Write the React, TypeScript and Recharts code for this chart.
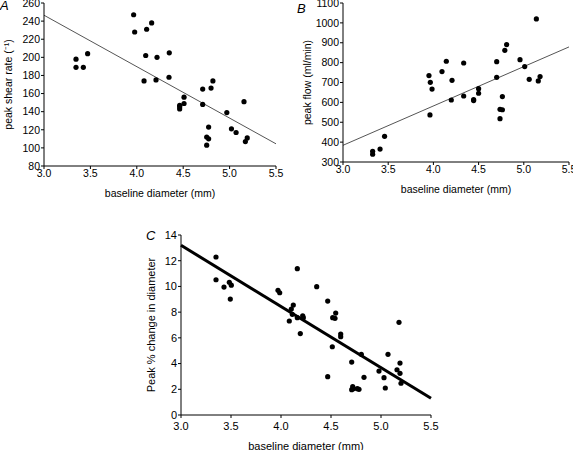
import { ScatterChart, Scatter, XAxis, YAxis, ReferenceLine } from "recharts"

// panel A: baseline diameter vs peak shear rate
const diameterA = [3.345, 3.345, 3.424, 3.47, 3.966, 3.977, 4.106, 4.16, 4.096, 4.218, 4.078, 4.207, 4.35, 4.347, 4.462, 4.462, 4.462, 4.509, 4.509, 4.71, 4.71, 4.8, 4.82, 4.753, 4.774, 4.774, 4.753, 4.97, 5.02, 5.07, 5.155, 5.17, 5.19]
const shearA = [198, 189, 189, 204, 247, 228, 231, 238, 202, 200, 174, 175, 205, 178, 147, 145.5, 143, 156, 149, 165, 148, 166, 174, 112, 110, 123, 103, 139, 121, 117, 151, 107, 111]
const trendA = [{ x: 3.0, y: 246.5 }, { x: 5.5, y: 104.5 }]

// panel B: baseline diameter vs peak flow
const diameterB = [3.328, 3.328, 3.41, 3.46, 3.951, 3.966, 3.962, 3.985, 4.095, 4.143, 4.206, 4.198, 4.335, 4.335, 4.445, 4.445, 4.5, 4.5, 4.7, 4.7, 4.79, 4.81, 4.737, 4.737, 4.763, 4.763, 4.958, 5.01, 5.06, 5.139, 5.16, 5.18]
const flowB = [354, 339, 365, 429, 735, 701, 537, 667, 755, 807, 711, 612, 798, 632, 614, 609, 669, 646, 805, 726, 862, 891, 518, 565, 563, 629, 815, 780, 716, 1020, 708, 730]
const trendB = [{ x: 3.0, y: 384 }, { x: 5.5, y: 879 }]

// panel C: baseline diameter vs peak % change in diameter
const diameterC = [3.35, 3.35, 3.43, 3.483, 3.503, 3.493, 3.97, 3.987, 4.083, 4.103, 4.123, 4.113, 4.163, 4.163, 4.193, 4.217, 4.223, 4.357, 4.467, 4.467, 4.513, 4.517, 4.54, 4.547, 4.597, 4.597, 4.707, 4.707, 4.717, 4.723, 4.763, 4.78, 4.803, 4.83, 4.98, 5.03, 5.043, 5.07, 5.16, 5.18, 5.19, 5.19, 5.2]
const changeC = [12.29, 10.52, 9.95, 10.32, 10.1, 9.02, 9.7, 9.51, 7.31, 8.24, 8.55, 7.83, 11.38, 7.57, 6.33, 7.72, 7.57, 9.98, 8.86, 2.98, 5.31, 7.57, 7.52, 7.93, 6.3, 6.09, 4.12, 1.97, 2.2, 2.05, 2.05, 2.0, 4.72, 2.93, 3.42, 2.9, 2.1, 4.72, 3.52, 7.21, 4.04, 3.24, 2.47]
const trendC = [{ x: 3.0, y: 13.2 }, { x: 5.5, y: 1.3 }]

const xTicks = [3.0, 3.5, 4.0, 4.5, 5.0, 5.5]
const yTicksA = [80, 100, 120, 140, 160, 180, 200, 220, 240, 260]
const yTicksB = [300, 400, 500, 600, 700, 800, 900, 1000, 1100]
const yTicksC = [0, 2, 4, 6, 8, 10, 12, 14]

const font = "'Liberation Sans', Arial, sans-serif"

const zip = (xs: number[], ys: number[]) => xs.map((x, i) => ({ x, y: ys[i] }))

const Dot = (p: any) => <circle cx={p.cx} cy={p.cy} r={2.6} fill="#000" />

type PanelProps = {
  width: number
  height: number
  margin: { top: number; right: number; bottom: number; left: number }
  yWidth: number
  xHeight: number
  xTickMargin: number
  fontSize: number
  yDomain: [number, number]
  yTicks: number[]
  yLabel: string
  yLabelOffset: number
  points: { x: number; y: number }[]
  trend: { x: number; y: number }[]
  trendColor: string
  trendWidth: number
}

const Panel = (p: PanelProps) => {
  const tickStyle = { fill: "#000", fontSize: p.fontSize, fontFamily: font }
  const labelStyle = { fill: "#000", fontSize: p.fontSize, fontFamily: font, textAnchor: "middle" as const }
  return (
    <ScatterChart width={p.width} height={p.height} margin={p.margin}>
      <XAxis
        type="number"
        dataKey="x"
        domain={[3, 5.5]}
        ticks={xTicks}
        interval={0}
        tickFormatter={(v: number) => v.toFixed(1)}
        height={p.xHeight}
        tick={tickStyle}
        tickSize={3}
        tickMargin={p.xTickMargin}
        stroke="#000"
        allowDataOverflow
        label={{ value: "baseline diameter (mm)", position: "insideBottom", offset: 0, style: labelStyle }}
      />
      <YAxis
        type="number"
        dataKey="y"
        domain={p.yDomain}
        ticks={p.yTicks}
        interval={0}
        width={p.yWidth}
        tick={tickStyle}
        tickSize={3}
        tickMargin={1}
        stroke="#000"
        allowDataOverflow
        label={{ value: p.yLabel, angle: -90, position: "insideLeft", offset: p.yLabelOffset, style: labelStyle }}
      />
      <ReferenceLine segment={p.trend} stroke={p.trendColor} strokeWidth={p.trendWidth} />
      <Scatter data={p.points} shape={Dot} isAnimationActive={false} />
    </ScatterChart>
  )
}

const letter = (text: string, left: number, top: number) => (
  <div style={{ position: "absolute", left, top, fontFamily: font, fontStyle: "italic", fontSize: 13, lineHeight: "13px" }}>{text}</div>
)

export default function App() {
  return (
    <div style={{ position: "absolute", left: 0, top: 0, width: 573, height: 450, background: "#fff", overflow: "hidden" }}>
      <div style={{ position: "absolute", left: 0, top: 0 }}>
        <Panel
          width={290}
          height={200}
          margin={{ top: 3, right: 14, bottom: 3, left: 0 }}
          yWidth={44}
          xHeight={31}
          xTickMargin={1}
          fontSize={10.5}
          yDomain={[80, 260]}
          yTicks={yTicksA}
          yLabel="peak shear rate (⁻¹)"
          yLabelOffset={8}
          points={zip(diameterA, shearA)}
          trend={trendA}
          trendColor="#555"
          trendWidth={1}
        />
      </div>
      <div style={{ position: "absolute", left: 290, top: 0 }}>
        <Panel
          width={283}
          height={200}
          margin={{ top: 3, right: 4, bottom: 7, left: 0 }}
          yWidth={53}
          xHeight={31}
          xTickMargin={1}
          fontSize={10.5}
          yDomain={[300, 1100]}
          yTicks={yTicksB}
          yLabel="peak flow (ml/min)"
          yLabelOffset={17}
          points={zip(diameterB, flowB)}
          trend={trendB}
          trendColor="#555"
          trendWidth={1}
        />
      </div>
      <div style={{ position: "absolute", left: 120, top: 225 }}>
        <Panel
          width={320}
          height={225}
          margin={{ top: 10, right: 9, bottom: 0, left: 0 }}
          yWidth={61}
          xHeight={35}
          xTickMargin={4}
          fontSize={11}
          yDomain={[0, 14]}
          yTicks={yTicksC}
          yLabel="Peak % change in diameter"
          yLabelOffset={31}
          points={zip(diameterC, changeC)}
          trend={trendC}
          trendColor="#000"
          trendWidth={3}
        />
      </div>
      {letter("A", 0, -1)}
      {letter("B", 297, 2)}
      {letter("C", 146, 229)}
    </div>
  )
}
